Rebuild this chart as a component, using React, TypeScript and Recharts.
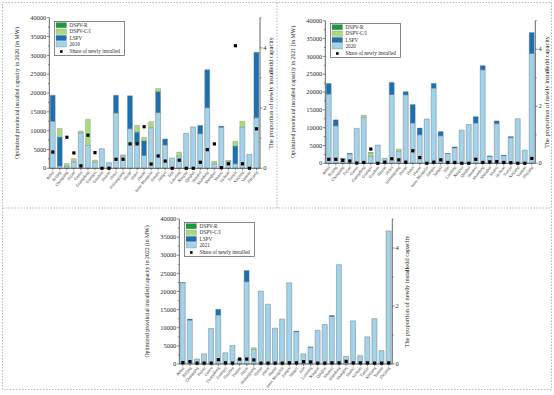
import React from 'react';
import { ComposedChart, Bar, Line, XAxis, YAxis, Legend } from 'recharts';

const provinces = [
  'Anhui', 'Beijing', 'Chongqing', 'Fujian', 'Gansu', 'Guangdong', 'Guangxi', 'Guizhou',
  'Hainan', 'Hebei', 'Heilongjiang', 'Henan', 'Hubei', 'Hunan', 'Inner Mongolia', 'Jiangsu',
  'Jiangxi', 'Jilin', 'Liaoning', 'Ningxia', 'Qinghai', 'Shaanxi', 'Shandong', 'Shanghai',
  'Shanxi', 'Sichuan', 'Tianjin', 'Xinjiang', 'Yunnan', 'Zhejiang',
];

// 2020 panel (base = 2019)
const base2019 = [12500, 600, 600, 1700, 9400, 6100, 1700, 5200, 1500, 14700, 3300, 10500, 6600, 3400, 10800, 14800, 6200, 2700, 3300, 9300, 11000, 9200, 16100, 1200, 10900, 1900, 1200, 11000, 3700, 13400];
const lspv2020 = [6900, 7700, 0, 0, 0, 0, 0, 0, 0, 4700, 0, 8800, 3000, 3900, 0, 5600, 1600, 0, 0, 0, 0, 2200, 10100, 0, 300, 0, 4700, 0, 0, 17400];
const ci2020 = [0, 2300, 700, 900, 500, 6900, 500, 0, 0, 0, 300, 0, 1800, 900, 1600, 800, 0, 0, 1000, 0, 0, 0, 0, 700, 0, 200, 1300, 1500, 0, 0];
const r2020 = [0, 0, 0, 0, 0, 0, 0, 0, 0, 0, 0, 0, 0, 0, 0, 0, 0, 0, 0, 0, 0, 0, 0, 0, 0, 0, 0, 0, 0, 0];
const share2020 = [0.54, null, 1.03, 0.51, 0.08, 1.1, 0.52, 0, 0, 0.3, 0.3, 0.81, 0.81, 1.38, 0.14, 0.41, 0.24, 0, 0.27, 0, 0, 0.2, 0.62, 0.81, 0.02, 0.15, 4.07, 0.15, 0, 1.31];

// 2021 panel (base = 2020)
const base2020 = [19400, 10500, 1300, 2600, 9800, 12900, 2000, 5100, 1400, 19300, 3400, 19200, 11300, 8000, 12400, 21100, 7700, 2700, 4300, 9300, 10900, 11300, 26200, 1900, 11100, 2100, 7200, 12500, 3700, 30800];
const lspv2021 = [3000, 1700, 100, 200, 0, 0, 0, 0, 0, 3400, 0, 900, 5200, 1900, 0, 1300, 1200, 100, 300, 0, 0, 1800, 1200, 200, 800, 200, 300, 0, 0, 5900];
const ci2021 = [0, 0, 0, 0, 0, 600, 900, 0, 0, 0, 600, 0, 0, 0, 0, 0, 0, 0, 0, 0, 0, 0, 0, 0, 0, 0, 0, 0, 0, 0];
const r2021 = [0, 0, 0, 0, 0, 0, 100, 0, 0, 0, 0, 0, 0, 0, 0, 0, 0, 0, 0, 0, 0, 0, 0, 0, 0, 0, 0, 0, 0, 0];
const share2021 = [0.14, 0.14, 0.1, 0.08, 0.01, 0.03, 0.5, 0, 0.04, 0.16, 0.12, 0.04, 0.44, 0.2, 0, 0.04, 0.12, 0.03, 0.03, 0, 0, 0.14, 0.03, 0.05, 0.06, 0.03, 0.02, 0, 0, 0.17];

// 2022 panel (base = 2021)
const base2021 = [22400, 12100, 1400, 2800, 9800, 13500, 3100, 5100, 1400, 22700, 4000, 20100, 16500, 9900, 12400, 22400, 8900, 2800, 4600, 9300, 10900, 13100, 27400, 2100, 11900, 2300, 7500, 12500, 3700, 36700];
const lspv2022 = [100, 300, 0, 0, 0, 1600, 0, 0, 0, 3100, 0, 0, 0, 0, 0, 0, 200, 0, 100, 0, 0, 300, 0, 0, 0, 0, 0, 0, 0, 0];
const ci2022 = [0, 0, 0, 0, 0, 0, 0, 0, 0, 0, 500, 0, 0, 0, 0, 0, 0, 0, 0, 0, 0, 0, 0, 0, 0, 0, 0, 0, 0, 0];
const r2022 = [0, 0, 0, 0, 0, 0, 0, 0, 0, 0, 0, 0, 0, 0, 0, 0, 0, 0, 0, 0, 0, 0, 0, 0, 0, 0, 0, 0, 0, 0];
const share2022 = [0.05, 0.08, 0.03, 0.03, 0.03, 0.15, 0.04, 0.03, 0.17, 0.17, 0.14, 0.03, 0.03, 0.03, 0.03, 0.04, 0.04, 0.08, 0.07, 0.03, 0.03, 0.04, 0.04, 0.09, 0.04, 0.04, 0.04, 0.03, 0.03, 0.04];

const capTicks = [0, 2500, 5000, 7500, 10000, 12500, 15000, 17500, 20000, 22500, 25000, 27500, 30000, 32500, 35000, 37500, 40000];
const shareTicks = [0, 1, 2, 3, 4, 5];

const FONT = '"Liberation Serif", "Times New Roman", serif';
const C = {
  base: '#a3d3ea',
  lspv: '#1d70ae',
  ci: '#a9da7e',
  r: '#1c9a36',
  edge: '#6f7f88',
  axis: '#404040',
  text: '#2a2a2a',
};

const buildRows = (base, lspv, ci, r, share) =>
  provinces.map((name, i) => ({ name, base: base[i], lspv: lspv[i], ci: ci[i], r: r[i], share: share[i] }));

const LeftTick = ({ x, y, payload }: any) => {
  const major = payload.value % 5000 === 0;
  return (
    <g>
      <line x1={x} x2={x - (major ? 2.4 : 1.4)} y1={y} y2={y} stroke={C.axis} strokeWidth={0.6} />
      {major && (
        <text x={x - 3} y={y} dy="0.34em" textAnchor="end" fontSize={6.4} fontFamily={FONT} fill={C.text}>
          {payload.value}
        </text>
      )}
    </g>
  );
};

const RightTick = ({ x, y, payload }: any) => {
  const major = payload.value % 2 === 0 && payload.value < 5;
  return (
    <g>
      <line x1={x} x2={x + (major ? 2.4 : 1.4)} y1={y} y2={y} stroke={C.axis} strokeWidth={0.6} />
      {major && (
        <text x={x + 3.2} y={y} dy="0.34em" textAnchor="start" fontSize={6.4} fontFamily={FONT} fill={C.text}>
          {payload.value}
        </text>
      )}
    </g>
  );
};

const BottomTick = ({ x, y, payload }: any) => (
  <g>
    <line x1={x} x2={x} y1={y} y2={y + 2} stroke={C.axis} strokeWidth={0.6} />
    <text
      x={x + 1.5}
      y={y + 4}
      transform={`rotate(-52 ${x + 1.5} ${y + 4})`}
      textAnchor="end"
      fontSize={4.1}
      fontFamily={FONT}
      fill={C.text}
    >
      {payload.value}
    </text>
  </g>
);

const ShareDot = (props: any) => {
  const { cx, cy, value, index } = props;
  if (value == null || cx == null || cy == null) return <g key={`d${index}`} />;
  return <rect key={`d${index}`} x={cx - 1.6} y={cy - 1.6} width={3.2} height={3.2} fill="#000" />;
};

const LegendBox = ({ year }: { year: string }) => {
  const items = [
    { label: 'DSPV-R', color: C.r },
    { label: 'DSPV-C/I', color: C.ci },
    { label: 'LSPV', color: C.lspv },
    { label: year, color: C.base },
  ];
  return (
    <svg width={71} height={35} style={{ display: 'block' }}>
      <rect x={0.4} y={0.4} width={70} height={34} fill="#fff" stroke="#555" strokeWidth={0.7} />
      {items.map((it, i) => (
        <g key={it.label}>
          <rect x={2} y={1.6 + i * 6.4} width={10.5} height={5.2} fill={it.color} stroke={C.edge} strokeWidth={0.3} />
          <text x={15.5} y={4.2 + i * 6.4} dy="0.34em" fontSize={5.2} fontFamily={FONT} fill={C.text}>
            {it.label}
          </text>
        </g>
      ))}
      <rect x={6} y={29.2} width={2.6} height={2.6} fill="#000" />
      <text x={15.5} y={30.5} dy="0.34em" fontSize={5.2} fontFamily={FONT} fill={C.text}>
        Share of newly installed
      </text>
    </svg>
  );
};

const Panel = ({ left, top, margin, data, year, legend }: any) => (
  <div style={{ position: 'absolute', left, top }}>
    <ComposedChart width={276} height={200} data={data} margin={margin} barCategoryGap="13%">
      <XAxis
        dataKey="name"
        interval={0}
        height={30}
        tickSize={0}
        tickMargin={0}
        tickLine={false}
        tick={<BottomTick />}
        stroke={C.axis}
        strokeWidth={0.8}
      />
      <XAxis xAxisId="top" dataKey="name" orientation="top" height={0} tick={false} tickLine={false} stroke={C.axis} strokeWidth={0.8} />
      <YAxis
        yAxisId="left"
        width={30}
        domain={[0, 40000]}
        ticks={capTicks}
        interval={0}
        tickSize={0}
        tickMargin={0}
        tickLine={false}
        tick={<LeftTick />}
        stroke={C.axis}
        strokeWidth={0.8}
      />
      <YAxis
        yAxisId="right"
        orientation="right"
        width={14}
        domain={[0, 5]}
        ticks={shareTicks}
        interval={0}
        tickSize={0}
        tickMargin={0}
        tickLine={false}
        tick={<RightTick />}
        stroke={C.axis}
        strokeWidth={0.8}
      />
      <Legend
        layout="vertical"
        align="center"
        verticalAlign="middle"
        wrapperStyle={{ left: legend.left, top: legend.top, width: 71, height: 35 }}
        content={() => <LegendBox year={year} />}
      />
      <Bar yAxisId="left" dataKey="base" stackId="s" fill={C.base} stroke={C.edge} strokeWidth={0.5} isAnimationActive={false} />
      <Bar yAxisId="left" dataKey="lspv" stackId="s" fill={C.lspv} stroke={C.edge} strokeWidth={0.3} isAnimationActive={false} />
      <Bar yAxisId="left" dataKey="ci" stackId="s" fill={C.ci} stroke={C.edge} strokeWidth={0.3} isAnimationActive={false} />
      <Bar yAxisId="left" dataKey="r" stackId="s" fill={C.r} stroke={C.edge} strokeWidth={0.3} isAnimationActive={false} />
      <Line
        yAxisId="right"
        dataKey="share"
        stroke="none"
        strokeWidth={0}
        dot={ShareDot}
        activeDot={false}
        connectNulls={false}
        isAnimationActive={false}
      />
    </ComposedChart>
  </div>
);

const VTitle = ({ x, y, size, children }: any) => (
  <text
    x={x}
    y={y}
    transform={`rotate(-90 ${x} ${y})`}
    textAnchor="middle"
    fontSize={size}
    fontFamily={FONT}
    fill={C.text}
  >
    {children}
  </text>
);

export default function App() {
  const rows2020 = buildRows(base2019, lspv2020, ci2020, r2020, share2020);
  const rows2021 = buildRows(base2020, lspv2021, ci2021, r2021, share2021);
  const rows2022 = buildRows(base2021, lspv2022, ci2022, r2022, share2022);

  return (
    <div style={{ position: 'absolute', left: 0, top: 0, width: 554, height: 395, background: '#fff', overflow: 'hidden' }}>
      <Panel
        left={0}
        top={0}
        margin={{ top: 17.7, right: 2, bottom: 1.7, left: 19.3 }}
        data={rows2020}
        year="2019"
        legend={{ left: 54.3, top: 20.7 }}
      />
      <Panel
        left={276}
        top={0}
        margin={{ top: 20.7, right: 2.7, bottom: 6.7, left: 19.3 }}
        data={rows2021}
        year="2020"
        legend={{ left: 54.3, top: 23.3 }}
      />
      <Panel
        left={140}
        top={195}
        margin={{ top: 24, right: 9.7, bottom: 1, left: 9.3 }}
        data={rows2022}
        year="2021"
        legend={{ left: 43.7, top: 26.7 }}
      />
      <svg width={554} height={395} style={{ position: 'absolute', left: 0, top: 0, pointerEvents: 'none' }}>
        <g fill="none" stroke="#9a9a9a" strokeWidth={0.7} strokeDasharray="1.5 1.5">
          <rect x={2.5} y={2.5} width={549} height={387} />
          <line x1={2.5} x2={551.5} y1={208} y2={208} />
          <line x1={277} x2={277} y1={2.5} y2={208} />
        </g>
        <VTitle x={19} y={93} size={5.8}>Optimized provincial installed capacity in 2020 (in MW)</VTitle>
        <VTitle x={273} y={93} size={6.4}>The proportion of newly installedd capacity</VTitle>
        <VTitle x={294.8} y={92} size={5.8}>Optimized provincial installed capacity in 2021 (in MW)</VTitle>
        <VTitle x={548.8} y={92} size={6.4}>The proportion of newly installedd capacity</VTitle>
        <VTitle x={148.8} y={291.5} size={5.8}>Optimized provincial installed capacity in 2022 (in MW)</VTitle>
        <VTitle x={408.8} y={291.5} size={6.4}>The proportion of newly installedd capacity</VTitle>
      </svg>
    </div>
  );
}
